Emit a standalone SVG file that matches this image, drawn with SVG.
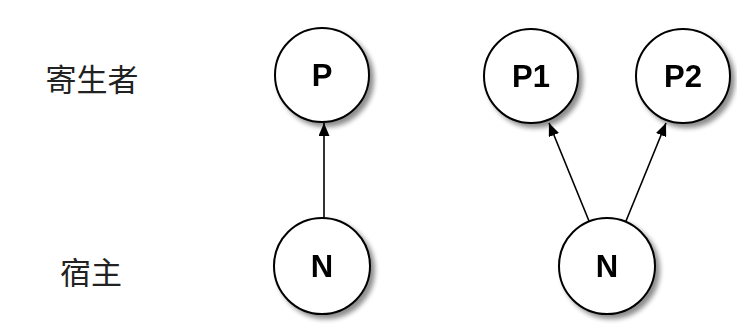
<svg xmlns="http://www.w3.org/2000/svg" width="737" height="324" viewBox="0 0 737 324">
  <defs>
    <filter id="shadow" x="-30%" y="-30%" width="170%" height="170%">
      <feGaussianBlur in="SourceAlpha" stdDeviation="2.5"/>
      <feOffset dx="4" dy="4" result="blur"/>
      <feComponentTransfer><feFuncA type="linear" slope="0.45"/></feComponentTransfer>
      <feMerge><feMergeNode/><feMergeNode in="SourceGraphic"/></feMerge>
    </filter>
    <marker id="arrow" viewBox="0 0 13 11" refX="13" refY="5.5" markerWidth="13" markerHeight="11" markerUnits="userSpaceOnUse" orient="auto">
      <path d="M0,0 L13,5.5 L0,11 Z" fill="#000"/>
    </marker>
  </defs>
  <style>
    .node circle { fill: #fff; stroke: #000; stroke-width: 2; }
    .node text { font-family: "Liberation Sans", Arial, sans-serif; font-weight: bold; font-size: 31px; fill: #000; text-anchor: middle; dominant-baseline: central; }
    .edge { stroke: #000; stroke-width: 1.6; fill: none; marker-end: url(#arrow); }
    .role { font-family: "Noto Sans CJK SC", "Noto Sans CJK JP", sans-serif; font-size: 31px; fill: #222; text-anchor: middle; dominant-baseline: central; }
  </style>
  <rect width="737" height="324" fill="#fff"/>

  <!-- row labels -->
  <text class="role" x="92" y="77">寄生者</text>
  <text class="role" x="91" y="270">宿主</text>

  <!-- connectors -->
  <g id="edges">
    <line class="edge" x1="324" y1="218" x2="324" y2="123"/>
    <line class="edge" x1="589" y1="221" x2="549" y2="123"/>
    <line class="edge" x1="626" y1="221" x2="666" y2="123"/>
  </g>

  <!-- nodes -->
  <g id="node-P" class="node" filter="url(#shadow)">
    <circle cx="322" cy="75" r="47"/>
    <text x="322" y="75">P</text>
  </g>
  <g id="node-N1" class="node" filter="url(#shadow)">
    <circle cx="322" cy="266" r="48"/>
    <text x="322" y="266">N</text>
  </g>
  <g id="node-P1" class="node" filter="url(#shadow)">
    <circle cx="531" cy="76" r="47"/>
    <text x="531" y="76">P1</text>
  </g>
  <g id="node-P2" class="node" filter="url(#shadow)">
    <circle cx="683" cy="76" r="47"/>
    <text x="683" y="76">P2</text>
  </g>
  <g id="node-N2" class="node" filter="url(#shadow)">
    <circle cx="607" cy="266" r="48"/>
    <text x="607" y="266">N</text>
  </g>
</svg>
